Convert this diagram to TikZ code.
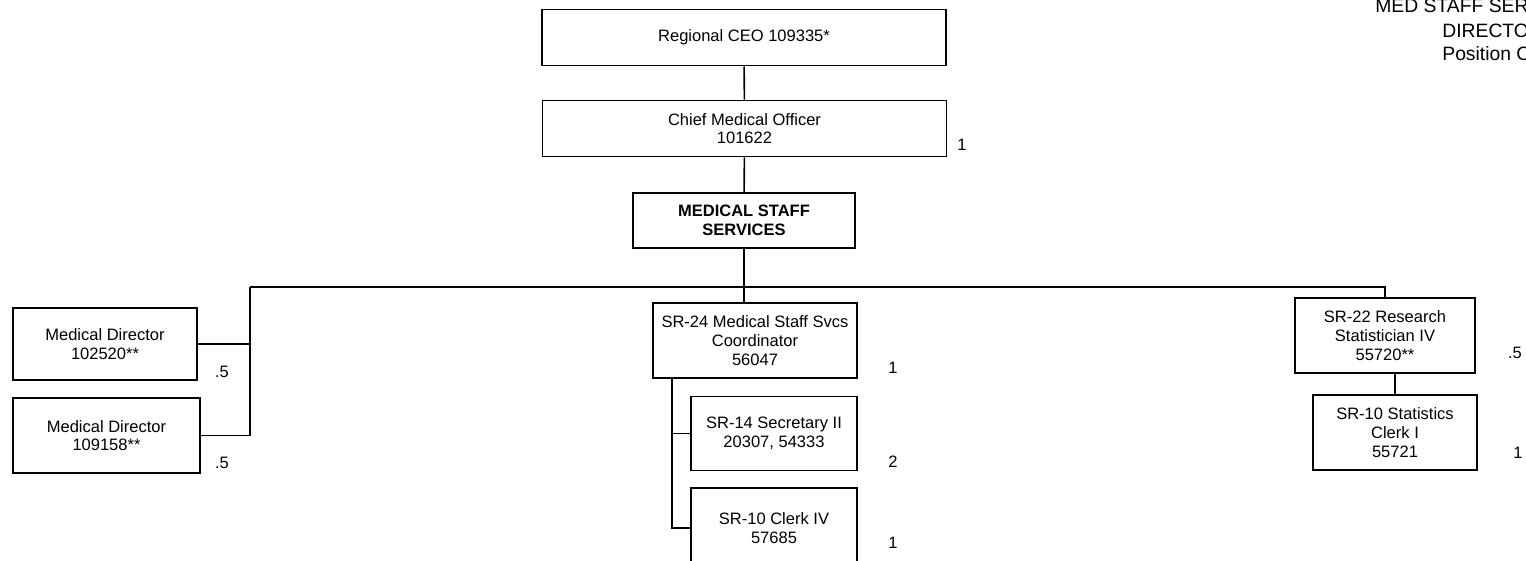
\documentclass[tikz,border=0pt]{standalone}
\usepackage{fontspec}
\setmainfont{Liberation Sans}
\usetikzlibrary{positioning}

\begin{document}
\begin{tikzpicture}[
    x=0.02cm, y=-0.02cm,
    box/.style={draw, line width=0.9pt, align=center, inner sep=2pt, font=\fontsize{9.4}{10.6}\selectfont},
    wide/.style={box, minimum width=8.08cm, minimum height=1.12cm},
    post/.style={box, minimum width=3.32cm, minimum height=1.48cm},
    fte/.style={font=\fontsize{9.4}{10}\selectfont},
    head/.style={font=\fontsize{11}{12}\selectfont, anchor=base west, inner sep=0pt},
    link/.style={line width=0.9pt}
]
\useasboundingbox (0,0) rectangle (1526,561);

% Top layer
\node[wide] (ceo) at (744,37.5) {Regional CEO 109335*};
\node[wide] (cmo) at (744.5,128.5) {Chief Medical Officer\\101622};
\node[box, minimum width=4.44cm, minimum height=1.1cm, font=\fontsize{9.4}{10.6}\selectfont\bfseries] (mss) at (744,220.5) {MEDICAL STAFF\\SERVICES};

% Left branch
\node[box, minimum width=3.68cm, minimum height=1.44cm] (mdone) at (105,344) {Medical Director\\102520**};
\node[box, minimum width=3.74cm, minimum height=1.5cm] (mdtwo) at (106.5,435.5) {Medical Director\\109158**};

% Middle branch
\node[box, minimum width=4.08cm, minimum height=1.5cm] (coord) at (755,340.5) {SR-24 Medical Staff Svcs\\Coordinator\\56047};
\node[post] (sec) at (774,433.5) {SR-14 Secretary II\\20307, 54333};
\node[post, minimum height=1.6cm] (clerk) at (774,528) {SR-10 Clerk IV\\57685};

% Right branch
\node[box, minimum width=3.6cm, minimum height=1.5cm] (res) at (1385,335.5) {SR-22 Research\\Statistician IV\\55720**};
\node[box, minimum width=3.28cm, minimum height=1.5cm] (stat) at (1395,432.5) {SR-10 Statistics\\Clerk I\\55721};

% Bus
\coordinate (busl) at (250,287);
\coordinate (busr) at (1385,287);

% Lines
\draw[link] (ceo) -- (cmo);
\draw[link] (cmo) -- (mss);
\draw[link] (mss.south) -- (mss.south |- busl);
\draw[link] (busl) -- (busr) -- (res.north);
\draw[link] (busl) |- (mdone.east);
\draw[link] (busl) |- (mdtwo.east);
\draw[link] (mss.south |- busl) -- (mss.south |- coord.north);
\draw[link] ([xshift=0.4cm]coord.south west) |- (sec.west);
\draw[link] ([xshift=0.4cm]coord.south west) |- (clerk.west);
\draw[link] (res.south -| stat.north) -- (stat.north);

% Position counts
\node[fte] (ncmo) at (962,145) {1};
\node[fte] (nmdone) at (222,372) {.5};
\node[fte] (nmdtwo) at (222,463) {.5};
\node[fte] (ncoord) at (893,368) {1};
\node[fte] (nsec) at (893,462) {2};
\node[fte] (nclerk) at (893,543) {1};
\node[fte] (nres) at (1515,353) {.5};
\node[fte] (nstat) at (1518,453) {1};

% Corner heading
\node[head] (hone) at (1375,12) {MED STAFF SER};
\node[head] (htwo) at (1442,37) {DIRECTO};
\node[head] (hthree) at (1442,60) {Position C};

\end{tikzpicture}
\end{document}
